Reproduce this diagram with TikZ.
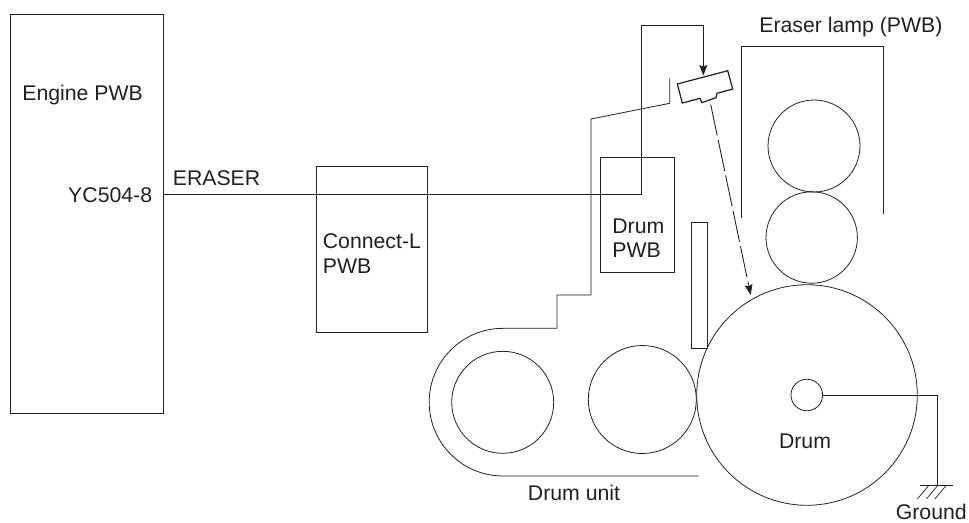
\documentclass[tikz,border=0pt]{standalone}
\usepackage{fontspec}
\setmainfont{Liberation Sans}
\usetikzlibrary{arrows.meta}
\definecolor{inkdark}{HTML}{231F20}
\tikzset{
	part/.style={draw=inkdark, line width=0.65pt, inner sep=0pt},
	roller/.style={draw=inkdark, line width=0.45pt},
	wire/.style={draw=inkdark, line width=0.5pt},
	label/.style={text=inkdark, inner sep=0pt, font=\fontsize{12.1}{14.6}\selectfont},
}
\begin{document}
\begin{tikzpicture}[x=0.02cm, y=-0.02cm, >={Stealth[length=6pt, width=4.5pt, inset=1pt]}]
	\useasboundingbox (0,0) rectangle (969,522);
	
	% 左侧板卡
	\node[part, minimum width=3.06cm, minimum height=7.98cm, anchor=north west] (engine) at (10,14) {};
	\node[part, minimum width=2.22cm, minimum height=3.32cm, anchor=north west] (connectl) at (316,166) {};
	\node[part, minimum width=1.486cm, minimum height=2.312cm, anchor=north west] (drumpwb) at (600,156.7) {};
	
	\node[label, anchor=base west] (enginetxt) at (22,100) {Engine PWB};
	\node[label, anchor=base east] (yctxt) at (152.5,202) {YC504-8};
	\node[label, anchor=base west] (erasertxt) at (172.5,185.7) {ERASER};
	\node[label, anchor=west, align=left] (connecttxt) at (322.5,253.4) {Connect-L\\PWB};
	\node[label, anchor=west, align=left, font=\fontsize{12.1}{13.8}\selectfont] (drumpwbtxt) at (612,238.4) {Drum\\PWB};
	
	% 感光鼓与辊
	\node[roller, circle, minimum size=4.412cm, inner sep=0pt] (drum) at (807,395) {};
	\node[roller, circle, minimum size=0.632cm, inner sep=0pt] (shaft) at (806.8,395) {};
	\node[roller, circle, minimum size=1.84cm, inner sep=0pt] (upperroller) at (814,146) {};
	\node[roller, circle, minimum size=1.828cm, inner sep=0pt] (lowerroller) at (811.7,237.5) {};
	\node[roller, circle, minimum size=2.16cm, inner sep=0pt] (midroller) at (642.3,399.5) {};
	\node[roller, circle, minimum size=2.04cm, inner sep=0pt] (leftroller) at (502.7,402.3) {};
	
	\node[label, anchor=base] (drumtxt) at (805,448.3) {Drum};
	\node[label, anchor=base] (unittxt) at (574,500) {Drum unit};
	\node[label, anchor=base] (groundtxt) at (931.3,519.5) {Ground};
	\node[label, anchor=base west] (lamptxt) at (759,32.7) {Eraser lamp (PWB)};
	
	% 显影单元外壳
	\draw[roller] (698.7,476) -- (503,476) arc[start angle=270, end angle=90, radius=1.477cm] -- (557,328.3) -- (557,295) -- (591,295) -- (591,119) -- (669.7,103.3) -- (669.7,78.3);
	\node[part, line width=0.5pt, minimum width=0.314cm, minimum height=2.532cm, anchor=north west] (strip) at (691,221.7) {};
	\draw[roller] (741,218) -- (741,46) -- (883.7,46) -- (883.7,214);
	
	% 消电灯
	\draw[part, line width=0.7pt] (677.3,84) -- (727.7,70.7) -- (732.7,89) -- (717,93.3) -- (716,97.7) -- (701.7,102.7) -- (700,98.3) -- (682.3,103) -- cycle;
	\coordinate (lamptop) at (703.3,75.5);
	\coordinate (lampbottom) at (710.7,104.5);
	\coordinate (drumhit) at (750.7,295);
	\draw[->, wire, dash pattern=on 18pt off 2.6pt] (lampbottom) -- (drumhit);
	
	% 信号线
	\coordinate (ycpin) at (163,194);
	\coordinate (wirebend) at (641.7,194);
	\coordinate (wiretop) at (641.7,25);
	\coordinate (wireright) at (703.3,25);
	\draw[->, wire] (ycpin) -- (wirebend) -- (wiretop) -- (wireright) -- (lamptop);
	
	% 接地
	\coordinate (groundcorner) at (937.7,395);
	\coordinate (groundfoot) at (937.7,485.3);
	\draw[wire] (shaft.east) -- (groundcorner) -- (groundfoot);
	\draw[wire] (920,485.3) -- (953.3,485.3);
	\foreach \x in {0,9,17.5}
		\draw[wire, line width=0.4pt] (928.3+\x,486) -- (917.3+\x,499);
	
\end{tikzpicture}
\end{document}
